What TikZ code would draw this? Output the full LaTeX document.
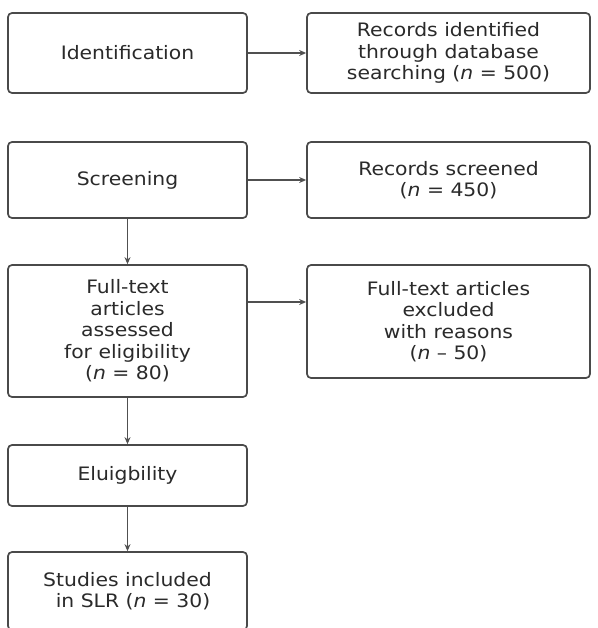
\documentclass[tikz,border=0pt]{standalone}
\usepackage{fontspec}
\setmainfont{DejaVu Sans}[FakeStretch=1.1]
\usepackage{tikz}
\usetikzlibrary{positioning, calc, arrows.meta}
\definecolor{flowLine}{HTML}{4A4A4A}
\definecolor{flowText}{HTML}{2A2A2A}
\definecolor{flowArrow}{HTML}{505050}

\begin{document}
\begin{tikzpicture}[x=1pt, y=-1pt,
	box/.style={draw=flowLine, fill=white, rounded corners=4pt, line width=1.7pt,
		text=flowText, align=center, inner sep=4pt,
		font=\fontsize{18.5}{21.5}\selectfont},
	stagebox/.style={box, minimum width=239pt},
	recordbox/.style={box, minimum width=283pt},
	flow/.style={draw=flowArrow, line width=1.5pt, -{Stealth[length=7pt, width=6pt]}}]
	\clip (0,0) rectangle (597,628);
	\node[stagebox, minimum height=80pt] (ident) at (127.5,53) {Identification};
	\node[recordbox, minimum height=80pt] (recid) at (448.5,53)
	{Records identified\\through database\\searching (\textit{n} = 500)};
	\node[stagebox, minimum height=76pt] (screen) at (127.5,180) {Screening};
	\node[recordbox, minimum height=76pt] (recscr) at (448.5,180)
	{Records screened\\(\textit{n} = 450)};
	\node[stagebox, minimum height=132pt] (fulltext) at (127.5,331)
	{Full-text\\articles\\assessed\\for eligibility\\(\textit{n} = 80)};
	\node[recordbox, minimum height=113pt] (excluded) at (448.5,321.5)
	{Full-text articles\\excluded\\with reasons\\(\textit{n} – 50)};
	\node[stagebox, minimum height=61pt] (elig) at (127.5,475.5) {Eluigbility};
	\node[stagebox, minimum height=78pt] (studies) at (127.5,591)
	{Studies included\\\hspace*{0.6em}in SLR (\textit{n} = 30)};
	\draw[flow] (ident) -- (recid);
	\draw[flow] (screen) -- (recscr);
	\draw[flow] ([yshift=29pt]fulltext.east) -- ([yshift=29pt]fulltext.east -| excluded.west);
	\draw[flow] (screen) -- (fulltext);
	\draw[flow] (fulltext) -- (elig);
	\draw[flow] (elig) -- (studies);
\end{tikzpicture}
\end{document}
